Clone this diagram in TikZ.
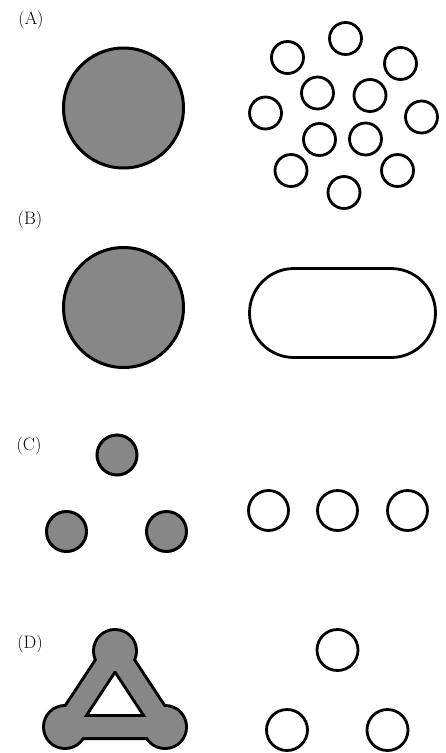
\documentclass[tikz,border=0pt]{standalone}
\begin{document}
\begin{tikzpicture}[x=1pt,y=-1pt,
  lbl/.style={font=\fontsize{18}{20}\selectfont, inner sep=0pt},
  solid/.style={draw=black, line width=3pt, fill=black!47},
  open/.style={draw=black, line width=2.8pt, fill=white}]
\useasboundingbox[fill=white] (0,0) rectangle (446,753);
% labels
\node[lbl] (la) at (31,20) {(A)};
\node[lbl] (lb) at (30,220) {(B)};
\node[lbl] (lc) at (29,446) {(C)};
\node[lbl] (ld) at (30,644) {(D)};
% (A)
\draw[solid] (123.5,108) circle (60);
\foreach \x/\y in {345.5/38.5, 287.5/57.5, 400.5/63.5, 317.5/93, 370/95.5,
  265.5/113, 421.5/117, 319.5/139.5, 365.5/139, 291/170.5, 397.5/170.5, 344/192.5}
  \draw[open] (\x,\y) circle (16);
% (B)
\draw[solid] (123.5,307.5) circle (60);
\draw[open, rounded corners=44.5pt] (249.5,268.5) rectangle (435.5,357.5);
% (C)
\draw[solid] (117,455) circle (20);
\draw[solid] (66.5,531.5) circle (20);
\draw[solid] (166.5,531.5) circle (20);
\draw[open] (268.5,510.5) circle (20);
\draw[open] (337.5,510.5) circle (20);
\draw[open] (407.5,510.5) circle (20);
% (D) band triangle
\coordinate (t) at (115,651);
\coordinate (bl) at (65,727);
\coordinate (br) at (165,727);
\draw[black, line width=26pt, line join=round] (t) -- (bl) -- (br) -- cycle;
\foreach \p in {t,bl,br} \fill[black] (\p) circle (23);
\draw[black!47, line width=20pt, line join=round] (t) -- (bl) -- (br) -- cycle;
\foreach \p in {t,bl,br} \fill[black!47] (\p) circle (20);
\draw[open] (337.5,650) circle (20.5);
\draw[open] (287,730) circle (20.5);
\draw[open] (387.5,730) circle (20.5);
\end{tikzpicture}
\end{document}
